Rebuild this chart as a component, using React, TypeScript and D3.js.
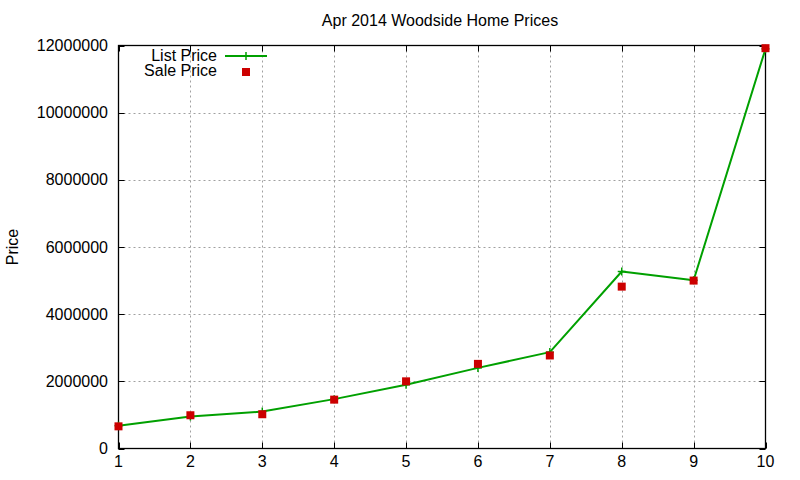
import React from "react";
import * as d3 from "d3";

const xValues = [1, 2, 3, 4, 5, 6, 7, 8, 9, 10];
const listPrice = [680000, 950000, 1100000, 1470000, 1900000, 2400000, 2870000, 5270000, 5010000, 11900000];
const salePrice = [660000, 990000, 1020000, 1455000, 2000000, 2520000, 2770000, 4820000, 5000000, 11920000];
const yTicks = [0, 2000000, 4000000, 6000000, 8000000, 10000000, 12000000];
const xTicks = [1, 2, 3, 4, 5, 6, 7, 8, 9, 10];

const title = "Apr 2014 Woodside Home Prices";
const yLabel = "Price";
const legendList = "List Price";
const legendSale = "Sale Price";

const W = 800;
const H = 480;
const M = { left: 118.5, right: 765.5, top: 45.5, bottom: 448.5 };
const GREEN = "#00a000";
const RED = "#cc0000";
const FONT = "'Liberation Sans', Arial, sans-serif";

export default function App() {
  const x = d3.scaleLinear().domain([1, 10]).range([M.left, M.right]);
  const y = d3.scaleLinear().domain([0, 12000000]).range([M.bottom, M.top]);
  const line = d3
    .line<number>()
    .x((_, i) => x(xValues[i]))
    .y((d) => y(d));
  const tickLen = 6;
  const plus = (cx: number, cy: number, k: string) => (
    <g key={k} stroke={GREEN} strokeWidth={1.5}>
      <line x1={cx - 4} x2={cx + 4} y1={cy} y2={cy} />
      <line x1={cx} x2={cx} y1={cy - 4} y2={cy + 4} />
    </g>
  );
  return (
    <svg
      width={W}
      height={H}
      viewBox={`0 0 ${W} ${H}`}
      style={{ position: "absolute", left: 0, top: 0, background: "#fff" }}
      fontFamily={FONT}
      fontSize={16}
    >
      <rect x={0} y={0} width={W} height={H} fill="#fff" />
      {/* grid */}
      <g stroke="#a0a0a0" strokeWidth={1} strokeDasharray="2,3">
        {yTicks
          .filter((t) => t > 0 && t < 12000000)
          .map((t) => (
            <line key={"gy" + t} x1={M.left} x2={M.right} y1={Math.round(y(t)) + 0.5} y2={Math.round(y(t)) + 0.5} />
          ))}
        {xTicks
          .filter((t) => t > 1 && t < 10)
          .map((t) => (
            <line key={"gx" + t} y1={M.top} y2={M.bottom} x1={Math.round(x(t)) + 0.5} x2={Math.round(x(t)) + 0.5} />
          ))}
      </g>
      {/* ticks (mirrored, inward) */}
      <g stroke="#000" strokeWidth={1}>
        {yTicks.map((t) => {
          const yy = Math.round(y(t)) + 0.5;
          return (
            <g key={"ty" + t}>
              <line x1={M.left} x2={M.left + tickLen} y1={yy} y2={yy} />
              <line x1={M.right} x2={M.right - tickLen} y1={yy} y2={yy} />
            </g>
          );
        })}
        {xTicks.map((t) => {
          const xx = Math.round(x(t)) + 0.5;
          return (
            <g key={"tx" + t}>
              <line y1={M.bottom} y2={M.bottom - tickLen} x1={xx} x2={xx} />
              <line y1={M.top} y2={M.top + tickLen} x1={xx} x2={xx} />
            </g>
          );
        })}
      </g>
      <rect
        x={M.left}
        y={M.top}
        width={M.right - M.left}
        height={M.bottom - M.top}
        fill="none"
        stroke="#000"
        strokeWidth={1.3}
      />
      {/* tick labels */}
      <g fill="#000">
        {yTicks.map((t) => (
          <text key={"ly" + t} x={108} y={y(t)} textAnchor="end" dominantBaseline="central">
            {String(t)}
          </text>
        ))}
        {xTicks.map((t) => (
          <text key={"lx" + t} x={x(t)} y={467} textAnchor="middle">
            {String(t)}
          </text>
        ))}
      </g>
      <text x={440} y={26} textAnchor="middle">
        {title}
      </text>
      <text transform="translate(18,247) rotate(-90)" textAnchor="middle">
        {yLabel}
      </text>
      {/* series */}
      <path d={line(listPrice) || ""} fill="none" stroke={GREEN} strokeWidth={2} strokeLinejoin="round" />
      {listPrice.map((v, i) => plus(x(xValues[i]), y(v), "p" + i))}
      {salePrice.map((v, i) => (
        <rect key={"s" + i} x={x(xValues[i]) - 4} y={y(v) - 4} width={8} height={8} fill={RED} />
      ))}
      {/* legend */}
      <text x={217} y={61} textAnchor="end">
        {legendList}
      </text>
      <line x1={225} x2={267} y1={56} y2={56} stroke={GREEN} strokeWidth={2} />
      {plus(246, 56, "lp")}
      <text x={217} y={76} textAnchor="end">
        {legendSale}
      </text>
      <rect x={242} y={68} width={8} height={8} fill={RED} />
    </svg>
  );
}
